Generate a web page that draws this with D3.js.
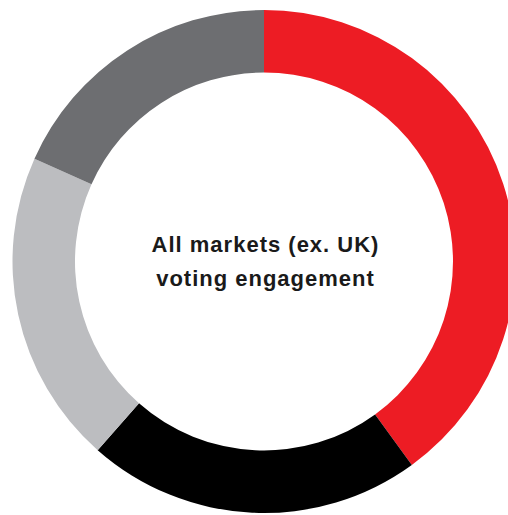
<!DOCTYPE html>
<html>
<head>
<meta charset="utf-8">
<script src="https://cdn.jsdelivr.net/npm/d3@7"></script>
<style>
  html, body { margin: 0; padding: 0; background: #fff; overflow: hidden; }
  svg { display: block; }
</style>
</head>
<body>
<svg id="chart" width="508" height="515"></svg>
<script>
// Share of voting engagement by segment (percent), clockwise from 12 o'clock
const segments = ["Segment A", "Segment B", "Segment C", "Segment D"];
const shares = [40, 21.5, 20.2, 18.3];
const colors = ["#ED1C24", "#000000", "#BCBDC0", "#6D6E71"];
const titleLines = ["All markets (ex. UK)", "voting engagement"];

const svg = d3.select("#chart");
const cx = 264, cy = 261.5;
const outerR = 251.5, innerR = 189;

const pie = d3.pie().sort(null).value(d => d);
const arc = d3.arc().innerRadius(innerR).outerRadius(outerR);
const color = d3.scaleOrdinal().domain(segments).range(colors);

const g = svg.append("g").attr("transform", `translate(${cx},${cy})`);

g.selectAll("path")
  .data(pie(shares))
  .join("path")
  .attr("d", arc)
  .attr("fill", (d, i) => color(segments[i]));

// Centre title, two lines
g.append("text")
  .attr("text-anchor", "middle")
  .attr("font-family", "'Liberation Sans', Arial, Helvetica, sans-serif")
  .attr("font-weight", "bold")
  .attr("font-size", 22)
  .attr("letter-spacing", 1)
  .attr("fill", "#1a1a1a")
  .selectAll("tspan")
  .data(titleLines)
  .join("tspan")
  .attr("x", 1.5)
  .attr("y", (d, i) => -10 + i * 34)
  .text(d => d);
</script>
</body>
</html>
